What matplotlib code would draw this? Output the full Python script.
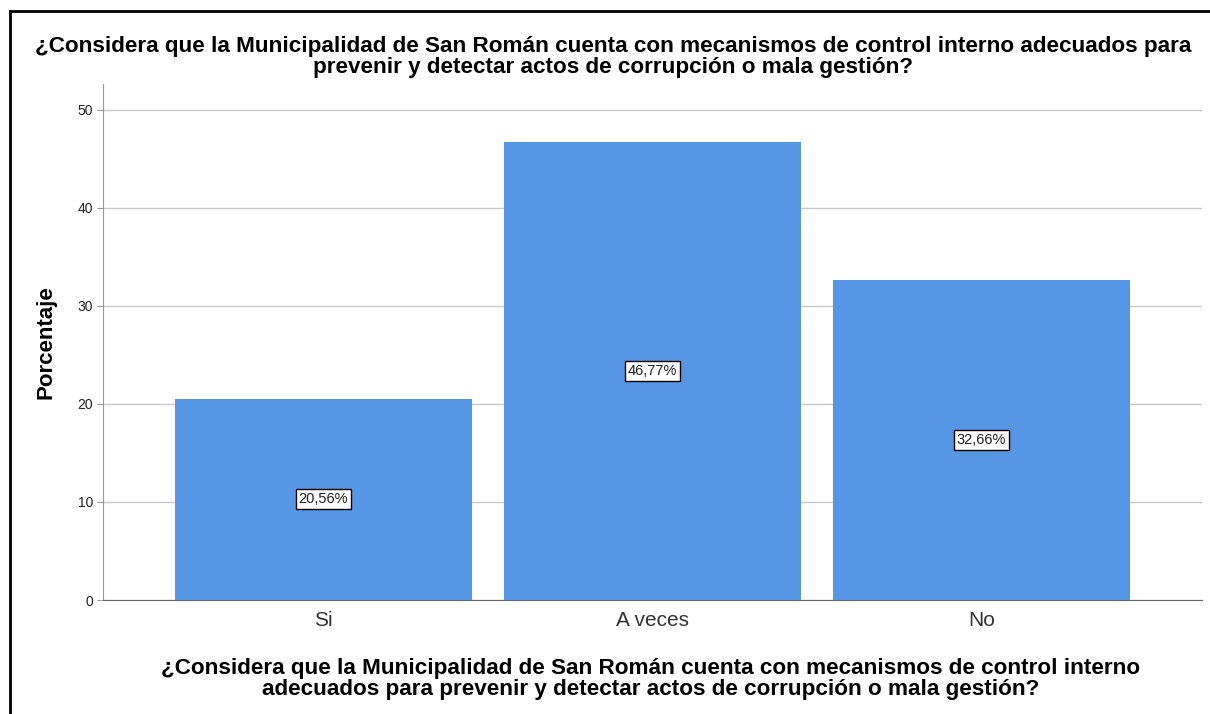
import numpy as np
import matplotlib.pyplot as plt
from matplotlib.patches import Rectangle

plt.rcParams['font.family'] = ['Liberation Sans', 'DejaVu Sans']

categorias = ['Si', 'A veces', 'No']
porcentajes = [20.56, 46.77, 32.66]
etiquetas = ['20,56%', '46,77%', '32,66%']
ticks_y = [0, 10, 20, 30, 40, 50]

pregunta = ('¿Considera que la Municipalidad de San Román cuenta con mecanismos de control interno adecuados para\n'
            'prevenir y detectar actos de corrupción o mala gestión?')
pregunta_x = ('¿Considera que la Municipalidad de San Román cuenta con mecanismos de control interno\n'
              'adecuados para prevenir y detectar actos de corrupción o mala gestión?')

fig = plt.figure(figsize=(12.1, 7.14), dpi=100)
ax = fig.add_axes([103 / 1210, 1 - 600 / 714, (1202 - 103) / 1210, (600 - 84) / 714])

x = np.arange(len(categorias))
ax.bar(x, porcentajes, width=0.903, color='#5596e5', zorder=3)

# etiquetas con caja en el centro de cada barra
for xi, v, t in zip(x, porcentajes, etiquetas):
    ax.text(xi, v / 2, t, ha='center', va='center', fontsize=10.5, color='#222222', zorder=4,
            bbox=dict(boxstyle='square,pad=0.2', fc='white', ec='black', lw=1))

ax.set_xlim(-0.67, 2.67)
ax.set_ylim(0, 52.65)
ax.set_yticks(ticks_y)
ax.set_xticks(x)
ax.set_xticklabels(categorias, fontsize=15, color='#333333')
ax.tick_params(axis='x', length=0, pad=8)
ax.tick_params(axis='y', labelsize=10, length=4, color='#999999', pad=3, labelcolor='#222222')
ax.yaxis.grid(True, color='#c8c8c8', lw=1, zorder=0)

for s in ['top', 'right']:
    ax.spines[s].set_visible(False)
ax.spines['left'].set_color('#999999')
ax.spines['bottom'].set_color('#666666')

ax.set_ylabel('Porcentaje', fontsize=16, fontweight='bold')
ax.yaxis.set_label_coords(-47 / 1099, 0.5)

fig.text(613 / 1210, 1 - 57 / 714, pregunta, ha='center', va='center', fontsize=16.2,
         fontweight='bold', linespacing=1.0)
fig.text(651 / 1210, 1 - 679 / 714, pregunta_x, ha='center', va='center', fontsize=16.2,
         fontweight='bold', linespacing=1.0)

# marco exterior
fig.patches.append(Rectangle((10 / 1210, -0.1), 1.2, 1 - 11 / 714 + 0.1, transform=fig.transFigure,
                             fill=False, ec='black', lw=2))

fig.savefig('out.png', dpi=100)
